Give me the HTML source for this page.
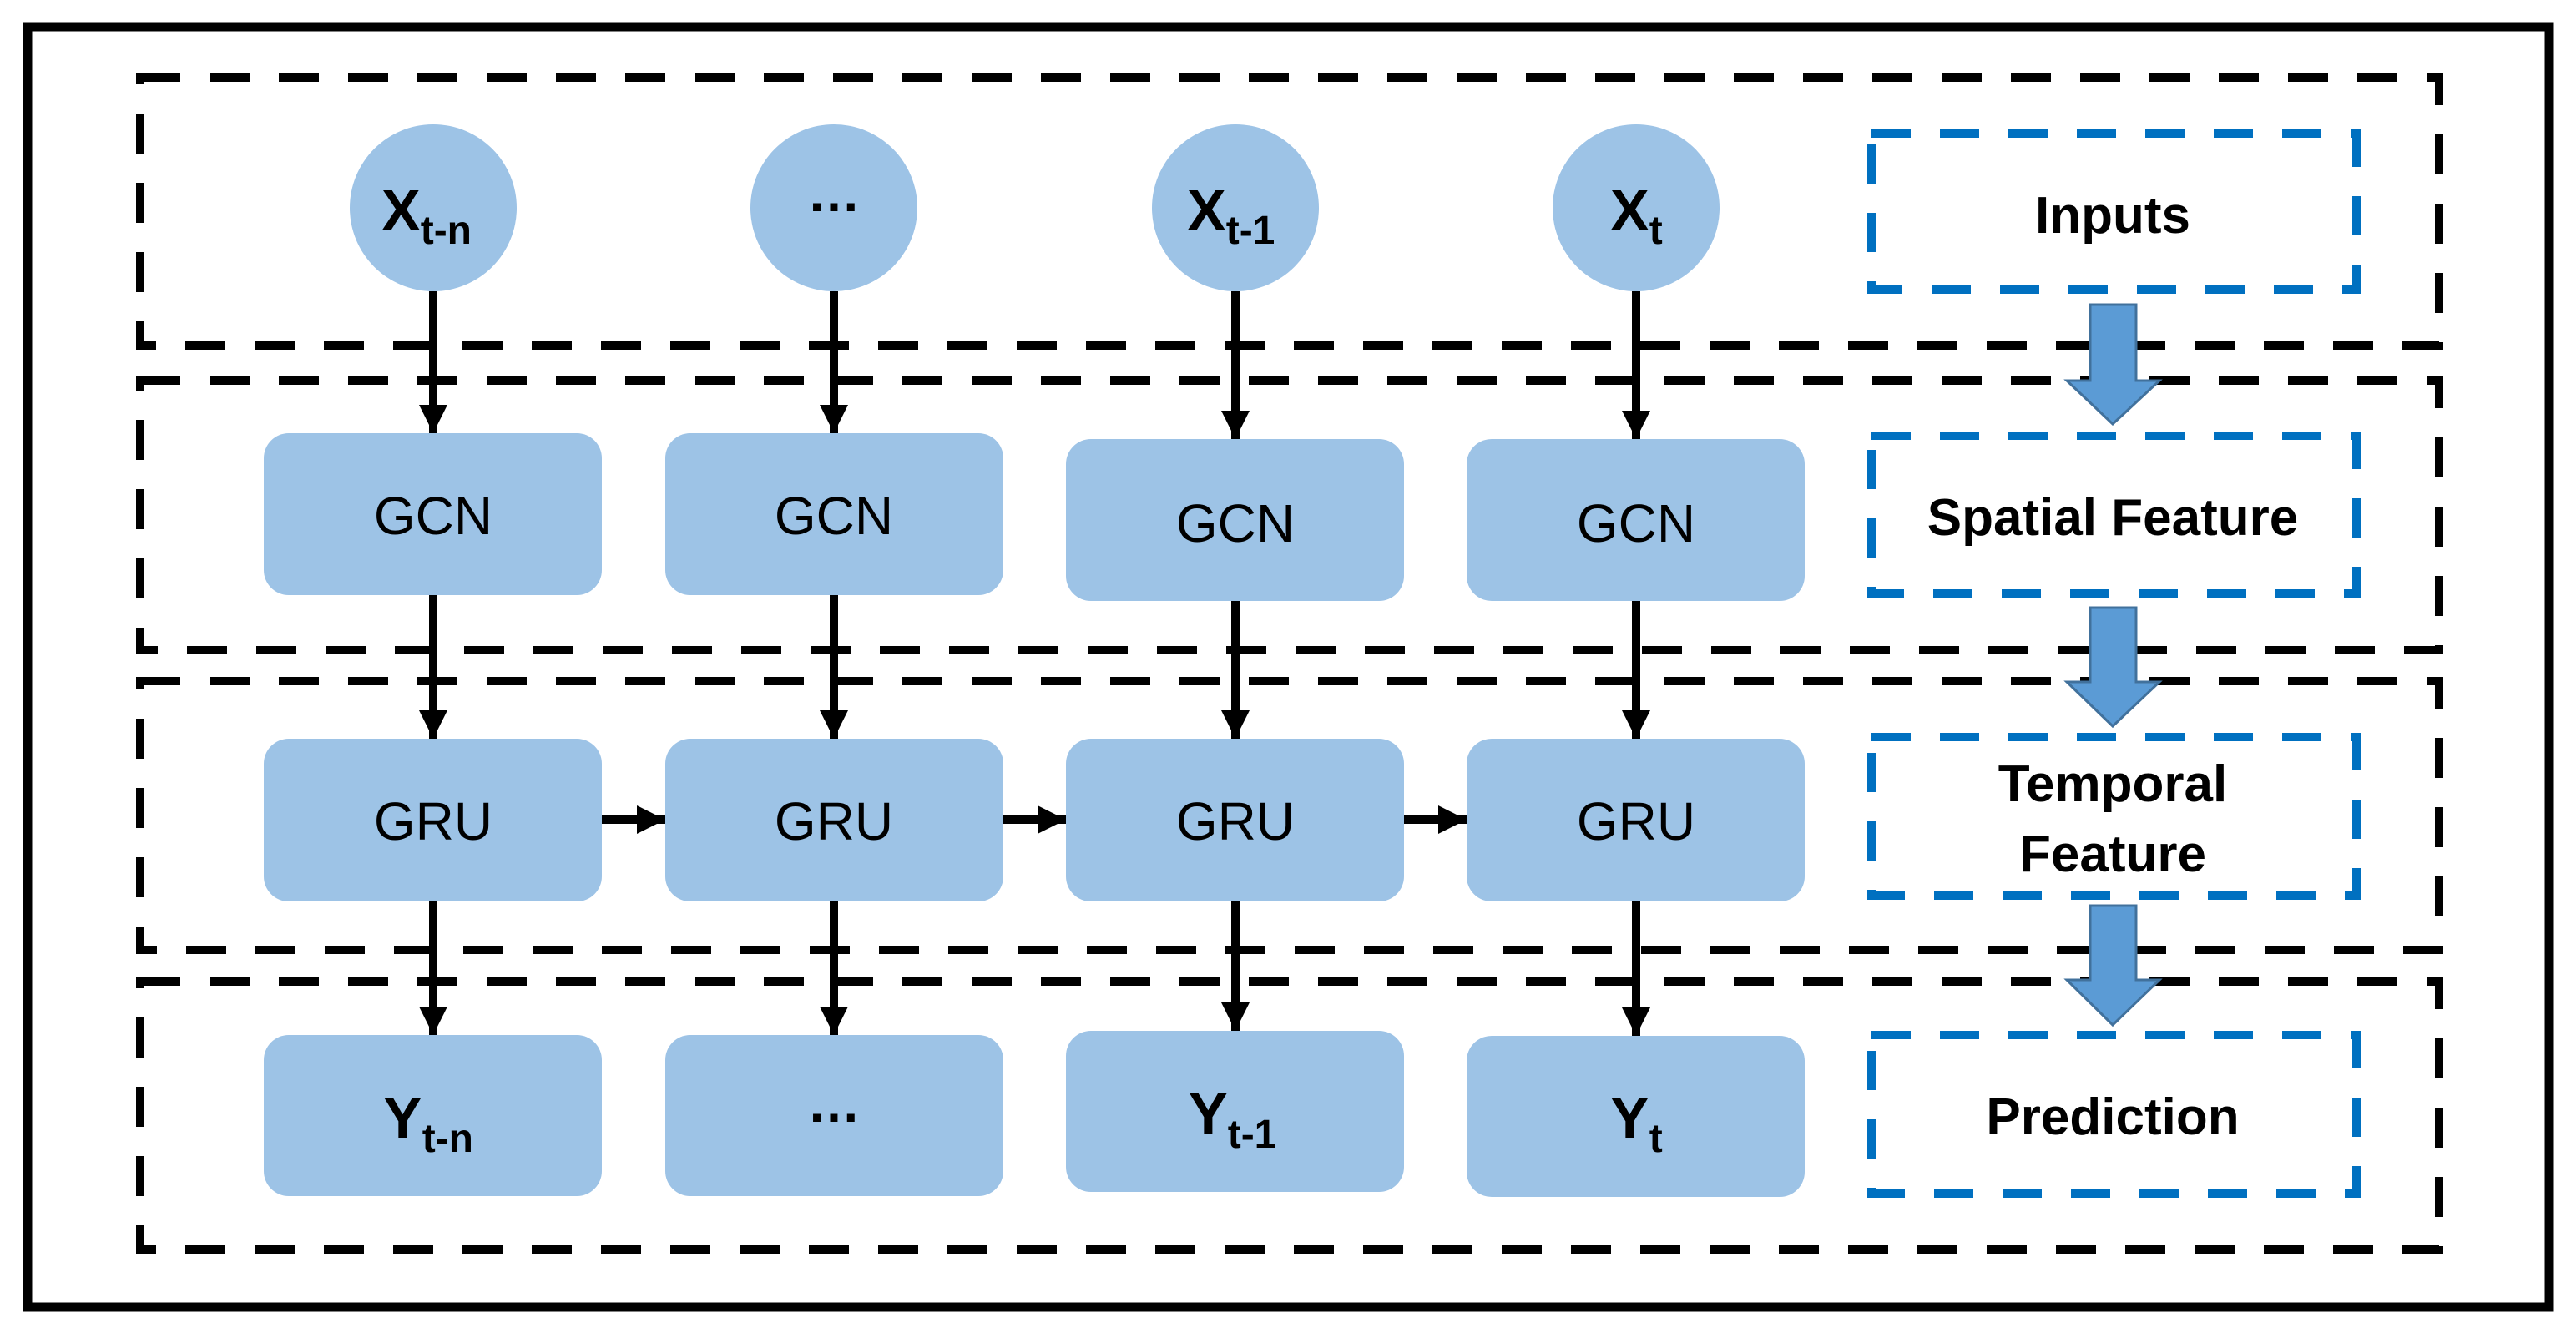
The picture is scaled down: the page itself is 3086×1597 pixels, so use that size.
<!DOCTYPE html>
<html><head><meta charset="utf-8"><style>
html,body{margin:0;padding:0;background:#fff}
svg{display:block}
text{font-family:"Liberation Sans",Arial,sans-serif}
</style></head><body>
<svg width="3086" height="1597" viewBox="0 0 3086 1597" xmlns="http://www.w3.org/2000/svg">
<defs>
<marker id="ah" markerUnits="userSpaceOnUse" markerWidth="36" markerHeight="36" refX="34" refY="17" orient="auto">
<path d="M0,0 L34,17 L0,34 Z" fill="#000"/>
</marker>
</defs>
<rect x="0" y="0" width="3086" height="1597" fill="#fff"/>
<rect x="33" y="32" width="3021" height="1534" fill="none" stroke="#000" stroke-width="11"/>

<g fill="none" stroke="#000" stroke-width="10" stroke-dasharray="48 35">
<rect x="168" y="93" width="2754" height="321"/>
<rect x="168" y="456" width="2754" height="323"/>
<rect x="168" y="816" width="2754" height="322"/>
<rect x="168" y="1176" width="2754" height="321"/>
</g>

<g fill="none" stroke="#0070c0" stroke-width="10" stroke-dasharray="47 35">
<rect x="2242" y="160" width="581" height="187"/>
<rect x="2242" y="522" width="581" height="189"/>
<rect x="2242" y="883" width="581" height="190"/>
<rect x="2242" y="1240" width="581" height="190"/>
</g>

<g fill="#5b9bd5" stroke="#41719c" stroke-width="3">
<path d="M2504,365 L2559,365 L2559,456 L2587,456 L2531,508 L2476,456 L2504,456 Z"/>
<path d="M2504,728 L2559,728 L2559,817 L2587,817 L2531,870 L2476,817 L2504,817 Z"/>
<path d="M2504,1085 L2559,1085 L2559,1174 L2587,1174 L2531,1228 L2476,1174 L2504,1174 Z"/>
</g>

<g fill="#9dc3e6">
<circle cx="519" cy="249" r="100"/>
<circle cx="999" cy="249" r="100"/>
<circle cx="1480" cy="249" r="100"/>
<circle cx="1960" cy="249" r="100"/>
<rect x="316" y="519" width="405" height="194" rx="30"/>
<rect x="797" y="519" width="405" height="194" rx="30"/>
<rect x="1277" y="526" width="405" height="194" rx="30"/>
<rect x="1757" y="526" width="405" height="194" rx="30"/>
<rect x="316" y="885" width="405" height="195" rx="30"/>
<rect x="797" y="885" width="405" height="195" rx="30"/>
<rect x="1277" y="885" width="405" height="195" rx="30"/>
<rect x="1757" y="885" width="405" height="195" rx="30"/>
<rect x="316" y="1240" width="405" height="193" rx="30"/>
<rect x="797" y="1240" width="405" height="193" rx="30"/>
<rect x="1277" y="1235" width="405" height="193" rx="30"/>
<rect x="1757" y="1241" width="405" height="193" rx="30"/>
</g>

<g stroke="#000" stroke-width="10" marker-end="url(#ah)">
<line x1="519" y1="349" x2="519" y2="519"/>
<line x1="999" y1="349" x2="999" y2="519"/>
<line x1="1480" y1="349" x2="1480" y2="526"/>
<line x1="1960" y1="349" x2="1960" y2="526"/>
<line x1="519" y1="713" x2="519" y2="885"/>
<line x1="999" y1="713" x2="999" y2="885"/>
<line x1="1480" y1="720" x2="1480" y2="885"/>
<line x1="1960" y1="720" x2="1960" y2="885"/>
<line x1="519" y1="1080" x2="519" y2="1240"/>
<line x1="999" y1="1080" x2="999" y2="1240"/>
<line x1="1480" y1="1080" x2="1480" y2="1235"/>
<line x1="1960" y1="1080" x2="1960" y2="1241"/>
<line x1="721" y1="982" x2="797" y2="982"/>
<line x1="1202" y1="982" x2="1277" y2="982"/>
<line x1="1682" y1="982" x2="1757" y2="982"/>
</g>

<g font-size="64" text-anchor="middle" fill="#000">
<text x="519" y="640">GCN</text>
<text x="999" y="640">GCN</text>
<text x="1480" y="649">GCN</text>
<text x="1960" y="649">GCN</text>
<text x="519" y="1006">GRU</text>
<text x="999" y="1006">GRU</text>
<text x="1480" y="1006">GRU</text>
<text x="1960" y="1006">GRU</text>
</g>

<g font-weight="bold" fill="#000">
<text x="457" y="276" font-size="70">X<tspan font-size="48" dy="16">t-n</tspan></text>
<text x="999" y="253" font-size="64" text-anchor="middle">…</text>
<text x="1422" y="276" font-size="70">X<tspan font-size="48" dy="16">t-1</tspan></text>
<text x="1929" y="276" font-size="70">X<tspan font-size="48" dy="16">t</tspan></text>
<text x="459" y="1363" font-size="70">Y<tspan font-size="48" dy="17">t-n</tspan></text>
<text x="999" y="1344" font-size="64" text-anchor="middle">…</text>
<text x="1424" y="1358" font-size="70">Y<tspan font-size="48" dy="17">t-1</tspan></text>
<text x="1929" y="1363" font-size="70">Y<tspan font-size="48" dy="17">t</tspan></text>
</g>

<g font-weight="bold" font-size="62" text-anchor="middle" fill="#000">
<text x="2531" y="279">Inputs</text>
<text x="2531" y="641">Spatial Feature</text>
<text x="2531" y="960">Temporal</text>
<text x="2531" y="1044">Feature</text>
<text x="2531" y="1359">Prediction</text>
</g>
</svg>
</body></html>
